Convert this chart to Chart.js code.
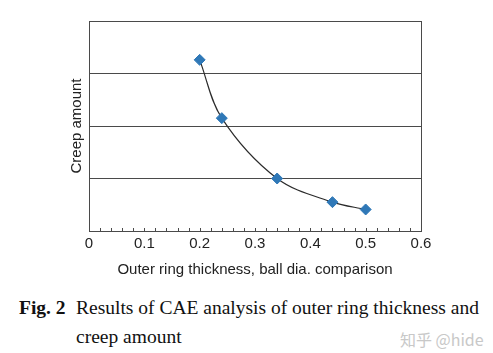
<!DOCTYPE html>
<html>
<head>
<meta charset="utf-8">
<script src="https://cdn.jsdelivr.net/npm/chart.js@4"></script>
<style>
  html, body { margin: 0; padding: 0; background: #fff; }
  body { width: 493px; height: 353px; position: relative; overflow: hidden; }
  #wrap { position: absolute; left: 0; top: 0; width: 493px; height: 285px; }
  .cap { position: absolute; font-family: "Liberation Serif", "Times New Roman", serif; font-size: 19.5px; color: #111; white-space: nowrap; }
  .wm { position: absolute; font-family: "Noto Sans CJK SC", "Noto Sans", sans-serif; font-size: 16px; color: #c8c8c8; white-space: nowrap; }
</style>
</head>
<body>
<div id="wrap"><canvas id="chart" width="493" height="285"></canvas></div>
<div class="cap" style="left:19px; top:297px;"><b>Fig. 2</b></div>
<div class="cap" style="left:76px; top:297px;">Results of CAE analysis of outer ring thickness and</div>
<div class="cap" style="left:76px; top:326px;">creep amount</div>
<div class="wm" style="left:400px; top:327px;">知乎 @hide</div>
<script>
  // data
  const thickness = [0.20, 0.24, 0.34, 0.44, 0.50];
  const creep = [3.26, 2.15, 1.0, 0.55, 0.41];
  const xTicks = [0, 0.1, 0.2, 0.3, 0.4, 0.5, 0.6];
  const yGrid = [0, 1, 2, 3, 4];
  const minorStep = 0.02;

  const frameColor = "#4a4a4a";
  const labelFont = { family: "Liberation Sans, Arial", size: 15 };

  /* frame around plot + small inward ticks on the x axis */
  const framePlugin = {
    id: "frame",
    afterDraw(chart) {
      const ctx = chart.ctx;
      const a = chart.chartArea;
      const x = chart.scales.x;
      ctx.save();
      ctx.strokeStyle = frameColor;
      ctx.lineWidth = 1;
      ctx.beginPath();
      for (let i = 1; i < Math.round(0.6 / minorStep); i++) {
        const px = Math.round(x.getPixelForValue(i * minorStep)) + 0.5;
        ctx.moveTo(px, a.bottom);
        ctx.lineTo(px, a.bottom - 3);
      }
      ctx.stroke();
      ctx.strokeRect(Math.round(a.left) + 0.5, Math.round(a.top) + 0.5,
        Math.round(a.right - a.left), Math.round(a.bottom - a.top));
      ctx.restore();
    }
  };

  new Chart(document.getElementById("chart"), {
    type: "scatter",
    data: {
      datasets: [{
        data: thickness.map((t, i) => ({ x: t, y: creep[i] })),
        showLine: true,
        tension: 0.35,
        borderColor: "#2b2b2b",
        borderWidth: 1.2,
        pointStyle: "rectRot",
        pointRadius: 5.5,
        pointHoverRadius: 5.5,
        pointBackgroundColor: "#2f78b7",
        pointBorderColor: "#2f78b7",
        pointBorderWidth: 1
      }]
    },
    options: {
      responsive: false,
      animation: false,
      events: [],
      layout: { padding: { top: 21, right: 72, left: 0, bottom: 0 } },
      plugins: { legend: { display: false }, tooltip: { enabled: false } },
      scales: {
        x: {
          type: "linear",
          min: 0,
          max: 0.6,
          afterFit: s => { s.height = 54; },
          afterBuildTicks: s => { s.ticks = xTicks.map(v => ({ value: v })); },
          grid: { display: false, drawTicks: false },
          border: { display: false },
          ticks: {
            padding: 4,
            color: "#222",
            font: labelFont,
            callback: v => String(Math.round(v * 10) / 10)
          },
          title: {
            display: true,
            text: "Outer ring thickness, ball dia. comparison",
            color: "#222",
            font: labelFont,
            padding: { top: 0, bottom: 6 }
          }
        },
        y: {
          min: 0,
          max: 4,
          afterFit: s => { s.width = 89; },
          afterBuildTicks: s => { s.ticks = yGrid.map(v => ({ value: v })); },
          grid: { color: frameColor, lineWidth: 1, drawTicks: false },
          border: { display: false },
          ticks: { display: false },
          title: {
            display: true,
            text: "Creep amount",
            color: "#222",
            font: labelFont,
            padding: { top: 68, bottom: 0 }
          }
        }
      }
    },
    plugins: [framePlugin]
  });
</script>
</body>
</html>
